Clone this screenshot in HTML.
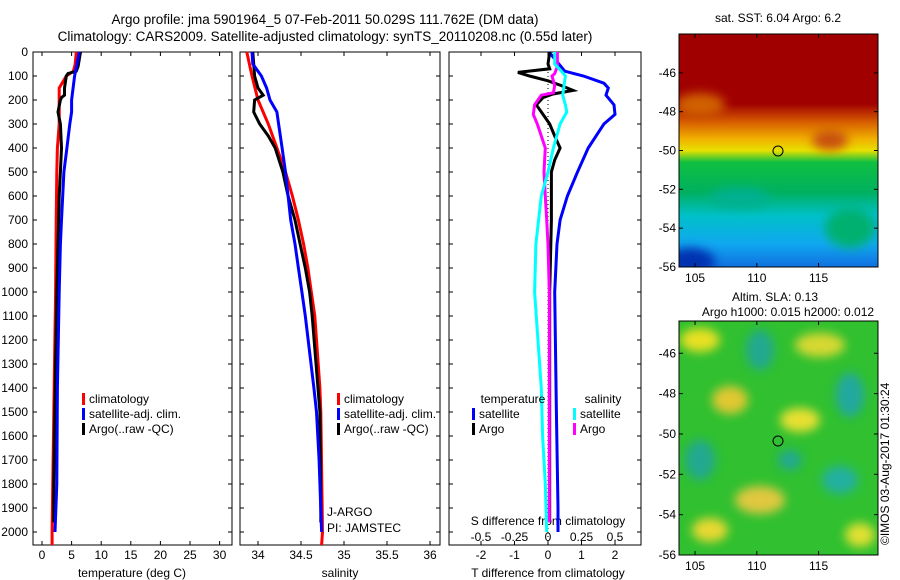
<!DOCTYPE html>
<html><head><meta charset="utf-8"><style>
body{margin:0;background:#fff;}
svg{display:block;font-family:"Liberation Sans",sans-serif;}
text{font-size:12px;fill:#000;}
</style></head><body>
<svg id="c" width="900" height="580" xmlns="http://www.w3.org/2000/svg">
<defs>
<linearGradient id="sst" x1="0" y1="0" x2="0" y2="1">
<stop offset="0" stop-color="#a00000"/><stop offset="0.3" stop-color="#a00000"/>
<stop offset="0.38" stop-color="#d86000"/><stop offset="0.45" stop-color="#f0b000"/>
<stop offset="0.5" stop-color="#e8e000"/><stop offset="0.55" stop-color="#10c040"/>
<stop offset="0.68" stop-color="#00b060"/><stop offset="0.78" stop-color="#00c0c8"/>
<stop offset="0.9" stop-color="#10a8f0"/><stop offset="1" stop-color="#1070e0"/>
</linearGradient>
<filter id="bl" x="-50%" y="-50%" width="200%" height="200%"><feGaussianBlur stdDeviation="5"/></filter>
<clipPath id="cm1"><rect x="679" y="34" width="199" height="233"/></clipPath>
<clipPath id="cm2"><rect x="679" y="321" width="199" height="234"/></clipPath>
</defs>
<text x="325" y="24" text-anchor="middle" style="font-size:13.5px">Argo profile: jma 5901964_5 07-Feb-2011 50.029S 111.762E (DM data)</text>
<text x="325" y="41" text-anchor="middle" style="font-size:13.5px">Climatology: CARS2009. Satellite-adjusted climatology: synTS_20110208.nc (0.55d later)</text>
<g id="plots"></g>
<g>
<text x="778" y="22" text-anchor="middle">sat. SST: 6.04  Argo: 6.2</text>
<g clip-path="url(#cm1)">
<rect x="679" y="34" width="199" height="233" fill="url(#sst)"/>
<ellipse cx="830" cy="140" rx="18" ry="10" fill="#c85010" filter="url(#bl)"/>
<ellipse cx="700" cy="105" rx="25" ry="12" fill="#d06000" filter="url(#bl)"/>
<ellipse cx="690" cy="262" rx="25" ry="14" fill="#0030b0" filter="url(#bl)"/>
<ellipse cx="850" cy="228" rx="25" ry="20" fill="#00b070" filter="url(#bl)"/>
<ellipse cx="740" cy="198" rx="30" ry="10" fill="#00b090" filter="url(#bl)"/>
</g>
<rect x="679" y="34" width="199" height="233" fill="none" stroke="#000"/>
<g id="m1ticks"></g>
<circle cx="778" cy="151" r="5" fill="none" stroke="#000"/>
</g>
<g>
<text x="775" y="301" text-anchor="middle">Altim. SLA: 0.13</text>
<text x="788" y="316" text-anchor="middle">Argo h1000: 0.015 h2000: 0.012</text>
<g clip-path="url(#cm2)">
<rect x="679" y="321" width="199" height="234" fill="#30c030"/>
<g filter="url(#bl)">
<ellipse cx="700" cy="340" rx="20" ry="12" fill="#e8e020"/>
<ellipse cx="760" cy="350" rx="14" ry="20" fill="#20a890"/>
<ellipse cx="820" cy="345" rx="25" ry="12" fill="#d8d830"/>
<ellipse cx="730" cy="400" rx="18" ry="14" fill="#e0c830"/>
<ellipse cx="850" cy="395" rx="14" ry="22" fill="#20a8a0"/>
<ellipse cx="800" cy="420" rx="20" ry="12" fill="#e8e030"/>
<ellipse cx="700" cy="460" rx="15" ry="20" fill="#20a890"/>
<ellipse cx="760" cy="500" rx="25" ry="14" fill="#e0c840"/>
<ellipse cx="840" cy="480" rx="18" ry="14" fill="#20b0a0"/>
<ellipse cx="710" cy="530" rx="18" ry="12" fill="#e8d830"/>
<ellipse cx="860" cy="535" rx="15" ry="12" fill="#e0e030"/>
<ellipse cx="790" cy="460" rx="12" ry="10" fill="#20a890"/>
</g></g>
<rect x="679" y="321" width="199" height="234" fill="none" stroke="#000"/>
<g id="m2ticks"></g>
<circle cx="778" cy="441" r="5" fill="none" stroke="#000"/>
</g>
<text transform="translate(889,545) rotate(-90)">©IMOS 03-Aug-2017 01:30:24</text>
</svg>
<script>
// depth levels and series
const tDepClim=[0,50,80,100,150,200,300,400,500,700,1000,1500,2000,2054];
const tClim=[5.8,5.6,5.3,4.1,2.9,2.9,2.9,2.6,2.5,2.4,2.3,2.0,1.7,1.7];
const tDepSat=[0,100,200,250,300,400,500,600,700,800,1000,1400,1800,2000];
const tSat=[6.3,5.5,5.0,5.0,4.7,4.2,3.7,3.5,3.3,3.1,2.9,2.6,2.5,2.2];
const tDepArgo=[0,60,80,90,100,150,180,190,200,250,300,400,500,600,800,1000,1600,1800,1960];
const tArgo=[6.5,6.1,5.8,4.4,4.1,3.8,3.8,3.3,3.1,2.7,3.1,3.3,3.1,2.9,2.7,2.5,2.1,2.0,2.0];
const sDepClim=[0,100,200,300,400,500,600,700,800,900,1000,1100,1400,1500,2000,2054];
const sClim=[33.87,33.93,34.0,34.12,34.22,34.32,34.40,34.47,34.53,34.58,34.62,34.66,34.72,34.73,34.75,34.74];
const sDepSat=[0,50,100,150,200,250,300,400,500,600,700,800,900,1000,1100,1400,1500,1700,2000];
const sSat=[33.93,33.94,34.04,34.1,34.14,34.22,34.24,34.28,34.32,34.35,34.38,34.43,34.47,34.51,34.55,34.65,34.68,34.71,34.74];
const sDepArgo=[0,100,150,180,200,250,300,350,400,500,600,700,800,900,1000,1100,1500,1900,1960];
const sArgo=[33.94,33.96,34.0,34.06,33.96,33.95,34.02,34.12,34.2,34.29,34.35,34.43,34.49,34.55,34.6,34.63,34.72,34.73,34.73];
const dDepTSat=[0,80,100,130,150,180,220,260,300,400,500,600,700,800,1000,1500,1900,2000];
const dTSat=[0.03,0.5,1.06,1.67,1.8,1.73,1.97,2.0,1.67,1.2,0.88,0.58,0.36,0.27,0.2,0.25,0.3,0.3];
const dDepTArgo=[0,50,70,85,100,120,140,160,175,190,220,260,300,350,400,450,500,700,1000,1500,1960];
const dTArgo=[0.05,0,0.05,-0.9,-0.55,0,0.4,0.75,0.15,-0.15,-0.35,-0.15,0.05,0.2,0.36,0.2,0.1,0.1,0.05,0.05,0.05];
const dDepSSat=[0,50,80,100,180,220,250,300,400,500,600,700,800,1000,1400,1600,1800,2000];
const dSSat=[0.05,0.05,0.1,0.13,0.11,0.13,0.14,0.09,0.04,0,-0.05,-0.07,-0.09,-0.1,-0.05,-0.04,-0.02,-0.01];
const dDepSArgo=[0,60,90,100,140,170,180,220,260,300,350,400,500,600,700,800,1000,1500,1960];
const dSArgo=[0.07,0.07,0.05,0.03,0.05,0.04,-0.05,-0.1,-0.11,-0.08,-0.05,-0.02,-0.03,-0.02,-0.01,0,0.01,0.01,0.01];
const depthTicks=[0,100,200,300,400,500,600,700,800,900,1000,1100,1200,1300,1400,1500,1600,1700,1800,1900,2000];
const tempTicks=[0,5,10,15,20,25,30];
const salTicks=[34,34.5,35,35.5,36];
const tdTicks=[-2,-1,0,1,2];
const sdTicks=[-0.5,-0.25,0,0.25,0.5];
const latTicks=[-46,-48,-50,-52,-54,-56];
const lonTicks=[105,110,115];

const NS='http://www.w3.org/2000/svg';
const root=document.getElementById('plots');
function mk(tag,at,parent){const e=document.createElementNS(NS,tag);for(const k in at)e.setAttribute(k,at[k]);(parent||root).appendChild(e);return e;}
const TOP=52,BOT=545;
const yD=d=>TOP+d*0.24;
const xT=v=>42+v*5.92, xS=v=>258+(v-34)*86, xTD=v=>548+v*33.5, xSD=v=>548+v*134;
const panels=[[33,232],[240,440],[449,641]];
panels.forEach((p,i)=>{
  const r=mk('rect',{x:p[0],y:TOP,width:p[1]-p[0],height:BOT-TOP,fill:'none',stroke:'#000'});
  
  
  depthTicks.forEach(d=>{mk('line',{x1:p[0],x2:p[0]+4,y1:yD(d),y2:yD(d),stroke:'#000'});mk('line',{x1:p[1],x2:p[1]-4,y1:yD(d),y2:yD(d),stroke:'#000'});});
});
depthTicks.forEach(d=>{const t=mk('text',{x:28,y:yD(d)+4,'text-anchor':'end'});t.textContent=d;
  
  });
function xticks(ticks,f,y,inTop,name){ticks.forEach(v=>{const x=f(v);
  if(inTop){mk('line',{x1:x,x2:x,y1:TOP,y2:TOP+4,stroke:'#000'});mk('line',{x1:x,x2:x,y1:BOT,y2:BOT-4,stroke:'#000'});}
  const t=mk('text',{x:x,y:y,'text-anchor':'middle'});t.textContent=v;
  
  });}
xticks(tempTicks,xT,559,true,'temp-tick-label');
xticks(salTicks,xS,559,true,'salinity-tick-label');
xticks(tdTicks,xTD,559,true,'tdiff-tick-label');
xticks(sdTicks,xSD,541,false,'sdiff-tick-label');
function lab(x,y,s,n){const t=mk('text',{x:x,y:y,'text-anchor':'middle'});t.textContent=s;
  
  }
lab(132,577,'temperature (deg C)','x-axis-title-temperature');
lab(340,577,'salinity','x-axis-title-salinity');
lab(548,577,'T difference from climatology','x-axis-title-tdiff');
lab(548,525,'S difference from climatology','sdiff-axis-title');
mk('line',{x1:548,x2:548,y1:TOP,y2:BOT,stroke:'#000','stroke-dasharray':'1,3'});
function line(deps,vals,f,col,name){const pts=deps.map((d,i)=>f(vals[i]).toFixed(1)+','+yD(d).toFixed(1)).join(' ');
  const l=mk('polyline',{points:pts,fill:'none',stroke:col,'stroke-width':3});
  
  }
line(tDepClim,tClim,xT,'#f00','temp-climatology-line');
line(tDepArgo,tArgo,xT,'#000','temp-argo-line');
line(tDepSat,tSat,xT,'#00f','temp-satellite-line');
line(sDepClim,sClim,xS,'#f00','salinity-climatology-line');
line(sDepArgo,sArgo,xS,'#000','salinity-argo-line');
line(sDepSat,sSat,xS,'#00f','salinity-satellite-line');
line(dDepTSat,dTSat,xTD,'#00f','tdiff-satellite-line');
line(dDepTArgo,dTArgo,xTD,'#000','tdiff-argo-line');
line(dDepSArgo,dSArgo,xSD,'#f0f','sdiff-argo-line');
line(dDepSSat,dSSat,xSD,'#0ff','sdiff-satellite-line');
function leg(x,y,col,s){mk('rect',{x:x,y:y-10,width:3,height:12,fill:col});const t=mk('text',{x:x+7,y:y});t.textContent=s;
  
  }
[[82],[337]].forEach(([x])=>{leg(x,403,'#f00','climatology');leg(x,418,'#00f','satellite-adj. clim.');leg(x,433,'#000','Argo(..raw -QC)');});
lab(513,403,'temperature','legend-title-temperature');lab(603,403,'salinity','legend-title-salinity');
leg(472,418,'#00f','satellite');leg(472,433,'#000','Argo');leg(573,418,'#0ff','satellite');leg(573,433,'#f0f','Argo');
const j1=mk('text',{x:327,y:516});j1.textContent='J-ARGO';


const j2=mk('text',{x:327,y:532});j2.textContent='PI: JAMSTEC';


function mapTicks(gid,x0,x1,y0,y1,lat0,lat1){const g=document.getElementById(gid);
  latTicks.forEach(v=>{const y=y1-(v-lat1)/(lat0-lat1)*(y1-y0);
    mk('line',{x1:x0,x2:x0+4,y1:y,y2:y,stroke:'#000'},g);mk('line',{x1:x1,x2:x1-4,y1:y,y2:y,stroke:'#000'},g);
    const t=mk('text',{x:x0-3,y:y+4,'text-anchor':'end'},g);t.textContent=v;
    
    });
  lonTicks.forEach(v=>{const x=x0+(v-103.7)*12.35;
    mk('line',{x1:x,x2:x,y1:y0,y2:y0+4,stroke:'#000'},g);mk('line',{x1:x,x2:x,y1:y1,y2:y1-4,stroke:'#000'},g);
    const t=mk('text',{x:x,y:y1+15,'text-anchor':'middle'},g);t.textContent=v;
    
    });}
mapTicks('m1ticks',679,878,34,267,-44,-56);
mapTicks('m2ticks',679,878,321,555,-44.4,-56);
</script>
</body></html>
